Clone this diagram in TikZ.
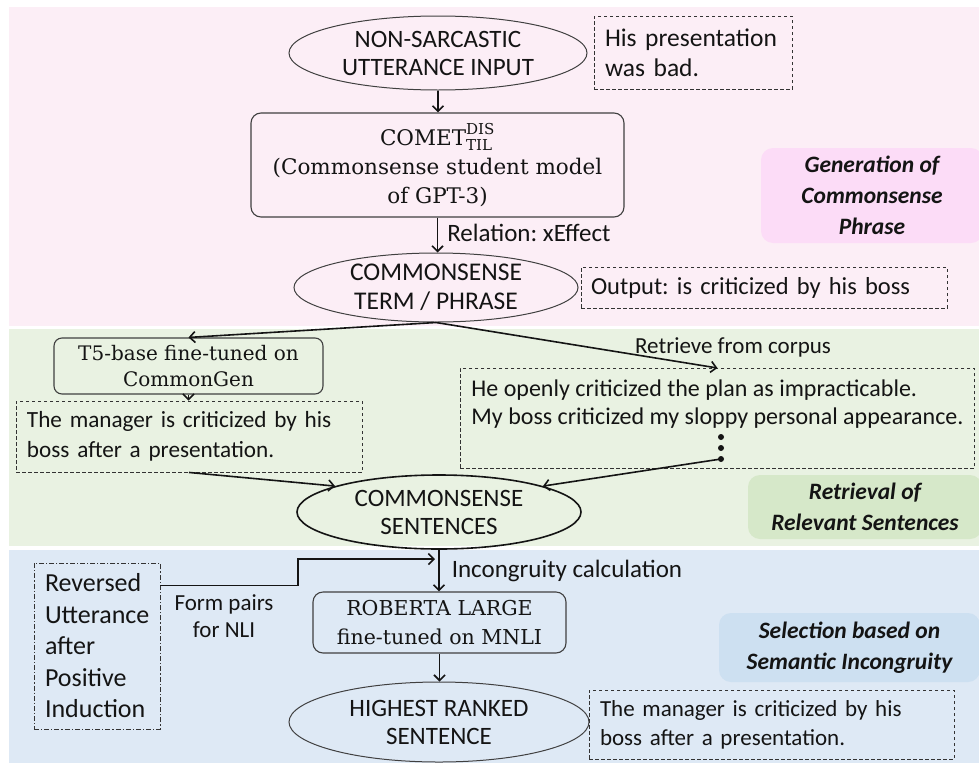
\documentclass[tikz,border=0pt]{standalone}
\usepackage{fontspec}
\usepackage{amsmath}
\setmainfont{Carlito}
\newfontfamily\modelface{DejaVu Serif}
\usetikzlibrary{shapes.geometric,arrows.meta}

\definecolor{pinkband}{RGB}{252,238,246}
\definecolor{pinktag}{RGB}{252,220,247}
\definecolor{greenband}{RGB}{233,242,226}
\definecolor{greentag}{RGB}{214,232,201}
\definecolor{blueband}{RGB}{222,233,245}
\definecolor{bluetag}{RGB}{205,224,241}
\definecolor{ink}{RGB}{20,20,20}

\begin{document}
\frenchspacing
\begin{tikzpicture}[x=1pt,y=-1pt,
  every node/.style={text=ink, inner sep=0pt},
  oval/.style={ellipse, draw=black!75, line width=1pt, align=center,
    font=\fontsize{25}{28}\selectfont},
  model/.style={rectangle, rounded corners=10pt, draw=black!75, line width=1.1pt,
    align=center, font=\modelface\fontsize{20.5}{29}\selectfont},
  note/.style={rectangle, draw=black!80, dash pattern=on 3.5pt off 2.5pt,
    line width=0.9pt, align=left, inner xsep=11pt,
    font=\fontsize{24.5}{30}\selectfont},
  stage/.style={rectangle, rounded corners=12pt, align=center,
    font=\bfseries\itshape\fontsize{23.5}{31}\selectfont},
  flow/.style={-{Straight Barb[length=5.5pt,width=11pt]}, line width=1.6pt, draw=ink},
  flowtext/.style={font=\fontsize{25}{30}\selectfont},
  smalltext/.style={font=\fontsize{23}{27}\selectfont, align=center}
]
\clip (0,0) rectangle (979,763);

% stage bands
\fill[pinkband]  (9,7)   rectangle (979,326);
\fill[greenband] (9,329) rectangle (979,546);
\fill[blueband]  (9,550) rectangle (979,763);

% stage titles
\node[stage, fill=pinktag, minimum width=222, minimum height=95] (st1) at (872,195.5)
  {Generation of\\Commonsense\\Phrase};
\node[stage, fill=greentag, minimum width=234, minimum height=64] (st2) at (865,507)
  {Retrieval of\\Relevant Sentences};
\node[stage, fill=bluetag, minimum width=261, minimum height=69] (st3) at (849.5,647.5)
  {Selection based on\\Semantic Incongruity};

% generation stage
\node[oval, minimum width=298, minimum height=74] (in) at (438,53)
  {NON-SARCASTIC\\UTTERANCE INPUT};
\node[note, text width=176, minimum height=73, font=\fontsize{25.5}{30}\selectfont]
  (inex) at (693,52.5) {His presentation\\was bad.};
\node[model, minimum width=373, minimum height=104, font=\modelface\fontsize{21.5}{29}\selectfont]
  (comet) at (437.5,165)
  {$\text{COMET}^{\text{DIS}}_{\text{TIL}}$\\(Commonsense student model\\of GPT-3)};
\node[oval, minimum width=284, minimum height=69, font=\fontsize{25.5}{29}\selectfont]
  (phrase) at (436,287.5) {COMMONSENSE\\TERM / PHRASE};
\node[note, inner xsep=10pt, text width=346, minimum height=41] (phex) at (764,287.5)
  {Output: is criticized by his boss};

% retrieval stage
\node[model, minimum width=269, minimum height=56, rounded corners=8pt,
  font=\modelface\fontsize{20}{26}\selectfont] (t5) at (188.5,366)
  {T5-base fine-tuned on\\CommonGen};
\node[note, text width=324, minimum height=71, font=\fontsize{23.2}{30}\selectfont]
  (man) at (189,436.5) {The manager is criticized by his\\boss after a presentation.};
\node[note, anchor=north west, inner ysep=11pt, font=\fontsize{24}{28}\selectfont]
  (retr) at (460,368)
  {\parbox[t][78pt][t]{492pt}{\raggedright
   \mbox{He openly criticized the plan as impracticable.}\\
   \mbox{My boss criticized my sloppy personal appearance.}}};
\fill[ink] (721,437) circle (3pt) (721,448) circle (3pt);
\fill[ink] (721,459) circle (3pt) coordinate (more);
\node[smalltext] (retrlab) at (733,347) {Retrieve from corpus};
\node[oval, draw=ink, line width=1.6pt, minimum width=284, minimum height=74] (sent)
  at (439,512) {COMMONSENSE\\SENTENCES};

% selection stage
\node[note, dash pattern=on 5pt off 2pt on 1.2pt off 2pt, text width=104,
  minimum height=166, font=\fontsize{26}{31.5}\selectfont] (rev) at (97,646)
  {Reversed\\Utterance\\after\\Positive\\Induction};
\node[smalltext] (pairlab) at (224,616) {Form pairs\\for NLI};
\node[model, minimum width=253, minimum height=61] (rob) at (439.5,622.5)
  {ROBERTA LARGE\\fine-tuned on MNLI};
\node[oval, minimum width=300, minimum height=80] (high) at (439,722)
  {HIGHEST RANKED\\SENTENCE};
\node[note, text width=343, minimum height=69, font=\fontsize{23}{29}\selectfont]
  (hiex) at (771.5,724.5) {The manager is criticized by his\\boss after a presentation.};

\coordinate (elbow) at (298,559);
\coordinate (merge) at (435,559);

% connectors
\draw[flow] (in.south) -- (in.south |- comet.north);
\draw[flow] (comet.south) -- (comet.south |- phrase.north)
  node[flowtext, anchor=west, pos=0.45, xshift=9pt] {Relation: xEffect};
\draw[flow] (phrase.south) -- (t5.north);
\draw[flow] (phrase.south) -- (retr.north);
\draw[flow] (t5.south) -- (t5.south |- man.north);
\draw[flow] (man.south) -- (sent.166);
\draw[flow] (more) -- (sent.14);
\draw[flow] (sent.south) -- (sent.south |- rob.north)
  node[flowtext, anchor=west, pos=0.5, xshift=12pt] {Incongruity calculation};
\draw[flow] ([yshift=-23pt]rev.north east) -| (elbow) -- (merge);
\draw[flow] (rob.south) -- (rob.south |- high.north);
\end{tikzpicture}
\end{document}
